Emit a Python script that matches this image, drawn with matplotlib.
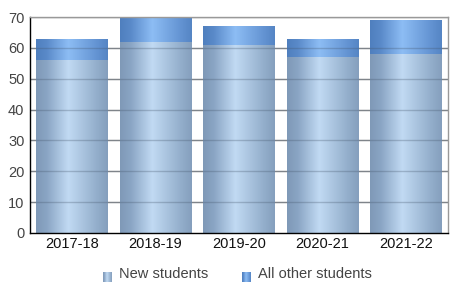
import numpy as np
import matplotlib
matplotlib.use("Agg")
import matplotlib.pyplot as plt
from matplotlib.colors import LinearSegmentedColormap
from matplotlib.patches import Rectangle

plt.rcParams['font.family'] = ['Liberation Sans', 'DejaVu Sans']

categories = ["2017-18", "2018-19", "2019-20", "2020-21", "2021-22"]
new_students = [56, 62, 61, 57, 58]
other_students = [7, 8, 6, 6, 11]
series_names = ["New students", "All other students"]
y_ticks = [0, 10, 20, 30, 40, 50, 60, 70]

cmap_new = LinearSegmentedColormap.from_list(
    "new", [(0.0, "#7f99b7"), (0.15, "#8aa5c4"), (0.45, "#c1daf3"), (0.85, "#93aecb"), (1.0, "#859fbd")])
cmap_other = LinearSegmentedColormap.from_list(
    "other", [(0.0, "#4f7fbe"), (0.15, "#5a8ac9"), (0.45, "#8dbdf4"), (0.85, "#6393d2"), (1.0, "#5585c4")])

fig = plt.figure(figsize=(4.56, 3.05), dpi=100)
ax = fig.add_axes([30 / 456, 1 - 233 / 305, 418 / 456, 216 / 305])

x = np.arange(len(categories))
width = 0.857
grad = np.linspace(0, 1, 256).reshape(1, -1)

ax.set_xlim(-0.5, len(categories) - 0.5)
ax.set_ylim(0, 70)

for yt in y_ticks[1:]:
    ax.axhline(yt, color="#999999", lw=1.0, zorder=1)

def grad_bar(xc, bottom, height, cmap):
    rect = Rectangle((xc - width / 2, bottom), width, height, facecolor="none", edgecolor="none", zorder=2)
    ax.add_patch(rect)
    im = ax.imshow(grad, cmap=cmap, aspect="auto", interpolation="bilinear",
                   extent=(xc - width / 2, xc + width / 2, bottom, bottom + height), zorder=2)
    im.set_clip_path(rect)

for i in range(len(categories)):
    grad_bar(x[i], 0, new_students[i], cmap_new)
    grad_bar(x[i], new_students[i], other_students[i], cmap_other)

for yt in y_ticks[1:-1]:
    ax.axhline(yt, color="#44556a", lw=1.0, alpha=0.3, zorder=3)

ax.set_xlim(-0.5, len(categories) - 0.5)
ax.set_ylim(0, 70)
ax.set_yticks(y_ticks)
ax.set_xticks(x)
ax.set_xticklabels(categories)
ax.tick_params(axis="both", length=0, labelsize=10.5, colors="#222222", pad=3)
ax.tick_params(axis="y", colors="#444444", pad=4)
for lbl in ax.get_yticklabels():
    lbl.set_color("#444444")
for lbl in ax.get_xticklabels():
    lbl.set_color("#111111")
ax.spines["left"].set_color("#000000")
ax.spines["bottom"].set_color("#000000")
ax.spines["top"].set_color("#999999")
ax.spines["right"].set_color("#999999")
for s in ax.spines.values():
    s.set_linewidth(1.0)
    s.set_zorder(4)

# legend
lax = fig.add_axes([0, 0, 1, 1])
lax.set_xlim(0, 456)
lax.set_ylim(305, 0)
lax.axis("off")
leg_items = [(103, cmap_new, series_names[0]), (242, cmap_other, series_names[1])]
for lx, cm, name in leg_items:
    lax.imshow(grad, cmap=cm, aspect="auto", interpolation="bilinear",
               extent=(lx, lx + 9, 282, 272))
    lax.text(lx + 16, 274, name, fontsize=10.5, color="#444444", va="center", ha="left")
lax.set_xlim(0, 456)
lax.set_ylim(305, 0)

fig.savefig("out.png", dpi=100)
